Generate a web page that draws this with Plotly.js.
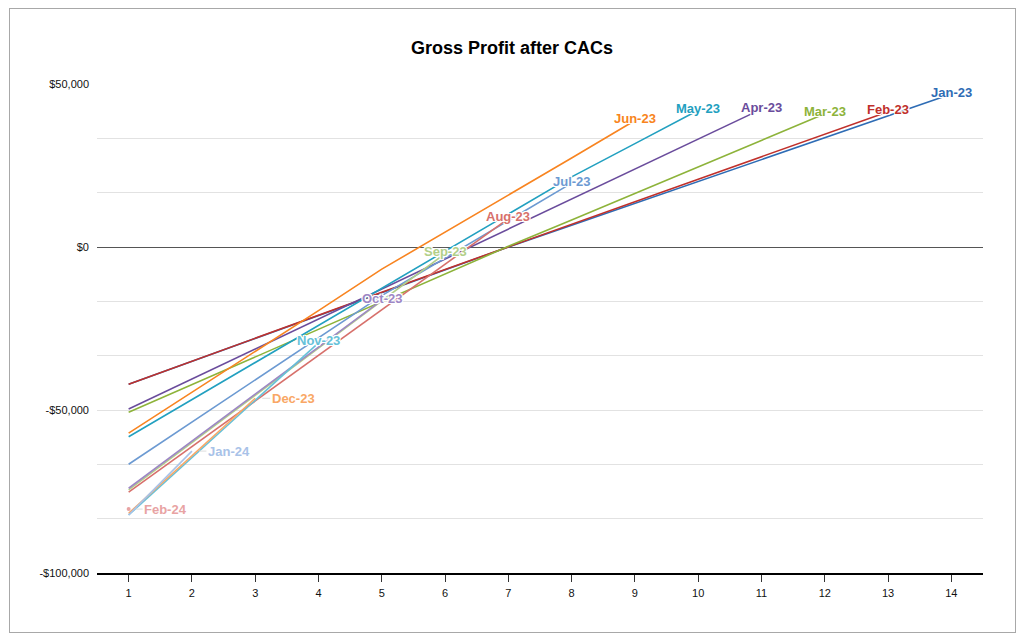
<!DOCTYPE html>
<html>
<head>
<meta charset="utf-8">
<script src="https://cdn.plot.ly/plotly-3.0.1.min.js"></script>
<style>
  body { margin: 0; background: #fff; }
  #chart { width: 1024px; height: 639px; }
  #frame { position: absolute; left: 9px; top: 8px; width: 1007px; height: 625px;
           border: 1px solid #a8a8a8; box-sizing: border-box; pointer-events: none; }
</style>
</head>
<body>
<div id="chart"></div>
<div id="frame"></div>
<script>
  // months since acquisition
  const months = [1, 2, 3, 4, 5, 6, 7, 8, 9, 10, 11, 12, 13, 14];

  // cumulative gross profit after CAC, per cohort
  const jan23 = [-42100, -35100, -28100, -21000, -14000, -7000, 0, 6700, 13400, 20100, 26800, 33500, 40200, 46900];
  const feb23 = [-42100, -35000, -28000, -21000, -13900, -6900, 100, 7000, 13900, 20800, 27700, 34600, 41500];
  const mar23 = [-50700, -42200, -33700, -25200, -16800, -8300, 200, 8300, 16400, 24500, 32700, 40850];
  const apr23 = [-49700, -40500, -31300, -22100, -12900, -3700, 5500, 14700, 23900, 33100, 42300];
  const may23 = [-58200, -46800, -35400, -24000, -12600, -1200, 10200, 21500, 31700, 41950];
  const jun23 = [-57100, -44600, -32100, -19500, -6800, 4500, 15800, 27300, 38800];
  const jul23 = [-66650, -53700, -40700, -27800, -14900, -3400, 8100, 19600];
  const aug23 = [-75200, -61200, -47200, -33300, -19300, -5300, 8700];
  const sep23 = [-74500, -60000, -45500, -31000, -16500, -2000];
  const oct23 = [-74000, -59600, -45200, -30700, -16300];
  const nov23 = [-82200, -64600, -47000, -29400];
  const dec23 = [-81700, -64100, -46400];
  const jan24 = [-82200, -62600];
  const feb24 = [-80400];

  const cohortNames = ['Jan-23', 'Feb-23', 'Mar-23', 'Apr-23', 'May-23', 'Jun-23', 'Jul-23',
    'Aug-23', 'Sep-23', 'Oct-23', 'Nov-23', 'Dec-23', 'Jan-24', 'Feb-24'];
  const cohortValues = [jan23, feb23, mar23, apr23, may23, jun23, jul23,
    aug23, sep23, oct23, nov23, dec23, jan24, feb24];
  const cohortColors = ['#2e6cb5', '#c0302b', '#8db33a', '#6a4c9c', '#22a0c0', '#f88420', '#6c9ad2',
    '#d7706b', '#b2cf88', '#9d87c5', '#66c1d8', '#f9a765', '#a8c2e8', '#e8a3a3'];

  const yTickVals = [-100000, -83333.33, -66666.67, -50000, -33333.33, -16666.67, 0, 16666.67, 33333.33, 50000];
  const yTickText = ['-$100,000', '', '', '-$50,000', '', '', '$0', '', '', '$50,000'];

  // labels that were pushed aside with a leader line
  const leaderOffsets = { 'Dec-23': 38, 'Jan-24': 37, 'Feb-24': 37 };

  const font = 'Liberation Sans, Arial, Helvetica, sans-serif';
  const halo = '1px 1px 0 #fff, -1px -1px 0 #fff, 1px -1px 0 #fff, -1px 1px 0 #fff, 0 0 2px #fff';

  const traces = cohortValues.map((values, i) => ({
    type: 'scatter',
    mode: values.length > 1 ? 'lines' : 'markers',
    x: months.slice(0, values.length),
    y: values,
    name: cohortNames[i],
    line: { color: cohortColors[i], width: 1.6 },
    marker: { color: cohortColors[i], size: 4 },
    hoverinfo: 'skip'
  }));

  const annotations = cohortValues.map((values, i) => {
    const name = cohortNames[i];
    const base = {
      x: values.length,
      y: values[values.length - 1],
      text: name,
      font: { family: font, size: 13, weight: 700, color: cohortColors[i], shadow: halo }
    };
    if (leaderOffsets[name]) {
      return { ...base, showarrow: true, arrowhead: 0, arrowwidth: 1, arrowcolor: '#dddddd',
        ax: leaderOffsets[name], ay: 0, standoff: 7 };
    }
    return { ...base, showarrow: false, yshift: 2 };
  });

  Plotly.newPlot('chart', traces, {
    width: 1024,
    height: 639,
    margin: { l: 97, r: 41, t: 84, b: 66 },
    paper_bgcolor: '#fff',
    plot_bgcolor: '#fff',
    showlegend: false,
    title: {
      text: 'Gross Profit after CACs',
      x: 0.5, xref: 'container', xanchor: 'center',
      y: 1 - 48 / 639, yref: 'container', yanchor: 'middle',
      font: { family: font, size: 18, weight: 700, color: '#000' }
    },
    xaxis: {
      range: [0.5, 14.5],
      tickvals: months,
      ticks: 'outside', ticklen: 7, tickcolor: '#333', tickwidth: 1,
      ticklabelstandoff: 2,
      showgrid: false, zeroline: false,
      showline: true, linecolor: '#000', linewidth: 1.5,
      tickfont: { family: font, size: 11, color: '#111' },
      fixedrange: true
    },
    yaxis: {
      range: [-100000, 50000],
      tickvals: yTickVals,
      ticktext: yTickText,
      ticks: '',
      ticklabelstandoff: 7,
      showgrid: true, gridcolor: '#e2e2e2', gridwidth: 1,
      zeroline: true, zerolinecolor: '#555', zerolinewidth: 1,
      showline: false,
      tickfont: { family: font, size: 11, color: '#111' },
      fixedrange: true
    },
    annotations
  }, { displayModeBar: false, staticPlot: true });
</script>
</body>
</html>
